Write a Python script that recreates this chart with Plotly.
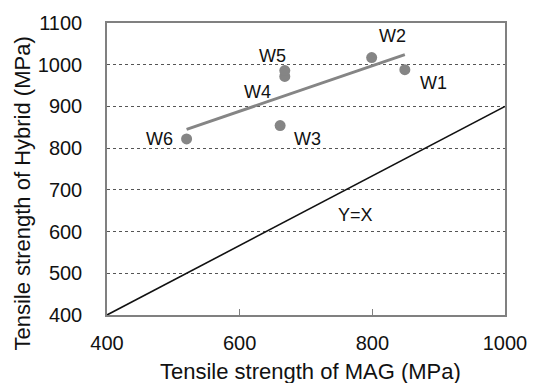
import numpy as np
import plotly.graph_objects as go

labels = ["W1", "W2", "W3", "W4", "W5", "W6"]
mag = [849, 799, 661, 668, 668, 520]
hybrid = [988, 1017, 854, 972, 986, 822]

ref_x = [400, 1000]
ref_y = [400, 900]

x_ticks = [400, 600, 800, 1000]
y_ticks = [400, 500, 600, 700, 800, 900, 1000, 1100]

x_title = "Tensile strength of MAG (MPa)"
y_title = "Tensile strength of Hybrid (MPa)"

# label offsets (pixels) relative to each point
label_dx = {"W1": 29, "W2": 21, "W3": 27, "W4": -27, "W5": -12, "W6": -27}
label_dy = {"W1": 13, "W2": -22, "W3": 13, "W4": 16, "W5": -15, "W6": 0}

slope, intercept = np.polyfit(mag, hybrid, 1)
tx = np.array([min(mag), max(mag)])
ty = slope * tx + intercept

font = "Liberation Sans, Arial, sans-serif"
fig = go.Figure()
fig.add_trace(go.Scatter(x=ref_x, y=ref_y, mode="lines",
                         line=dict(color="#111111", width=1.6), showlegend=False))
fig.add_trace(go.Scatter(x=tx, y=ty, mode="lines",
                         line=dict(color="#858585", width=3), showlegend=False))
fig.add_trace(go.Scatter(x=mag, y=hybrid, mode="markers",
                         marker=dict(color="#858585", size=11), showlegend=False))

for lab, xv, yv in zip(labels, mag, hybrid):
    fig.add_annotation(x=xv, y=yv, text=lab, showarrow=False,
                       xshift=label_dx[lab], yshift=-label_dy[lab],
                       font=dict(family=font, size=18, color="#111111"))
fig.add_annotation(x=775, y=640, text="Y=X", showarrow=False,
                   font=dict(family=font, size=18, color="#111111"))

# axis titles
fig.add_annotation(x=0.511, y=0, xref="paper", yref="paper", text=x_title,
                   showarrow=False, yanchor="middle", yshift=-56,
                   font=dict(family=font, size=22, color="#111111"))
fig.add_annotation(x=0, y=0.416, xref="paper", yref="paper", text=y_title,
                   showarrow=False, textangle=-90, xanchor="center", xshift=-84,
                   font=dict(family=font, size=22, color="#111111"))

fig.update_layout(
    width=539, height=383,
    margin=dict(l=107, r=32, t=18, b=68),
    plot_bgcolor="white", paper_bgcolor="white",
    font=dict(family=font, size=20, color="#111111"),
)
fig.update_xaxes(range=[400, 1000], tickvals=x_ticks, showgrid=False,
                 showline=True, linecolor="#808080", linewidth=1.5, mirror=True,
                 ticks="inside", ticklen=6, tickcolor="#808080",
                 ticklabelstandoff=9, zeroline=False)
fig.update_yaxes(range=[400, 1100], tickvals=y_ticks, showgrid=True,
                 gridcolor="#555555", griddash="dot", gridwidth=1,
                 showline=True, linecolor="#808080", linewidth=1.5, mirror=True,
                 ticks="", ticklabelstandoff=19, zeroline=False)

fig.write_html("out.html")
